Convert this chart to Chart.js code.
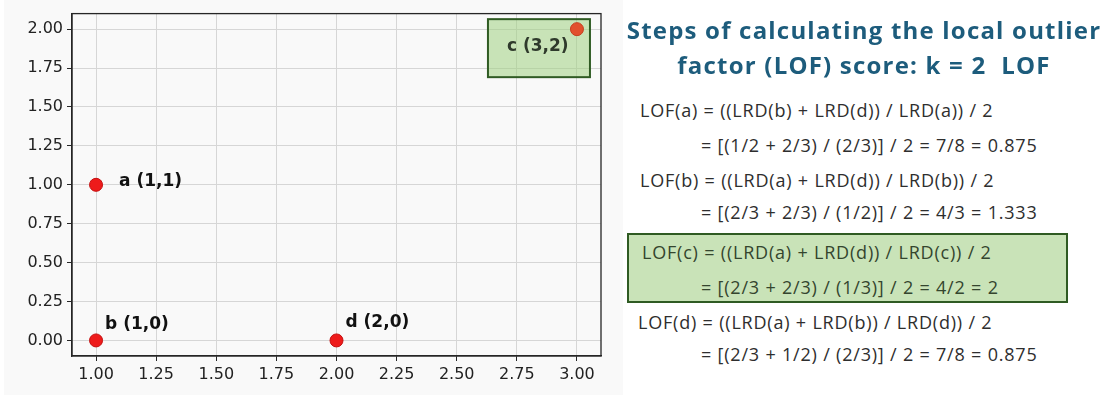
<!DOCTYPE html>
<html>
<head>
<meta charset="utf-8">
<script src="https://cdn.jsdelivr.net/npm/chart.js@4.4.1/dist/chart.umd.min.js"></script>
<style>
  body { margin: 0; background: #ffffff; width: 1113px; height: 398px; overflow: hidden; position: relative; }
  #plotBox { position: absolute; left: 4px; top: 0; width: 619px; height: 395px; background: #f9f9f9; }
  .t { position: absolute; white-space: nowrap; }
  .title { font-family: "Open Sans", sans-serif; font-weight: 700; font-size: 24px; letter-spacing: 1.2px; color: #1d5c7c; line-height: 32px; width: 500px; left: 614px; text-align: center; }
  .f { font-family: "Open Sans", sans-serif; font-size: 18px; letter-spacing: 0.8px; color: #2e2e2e; line-height: 22px; }
  #hiBox { position: absolute; left: 627px; top: 233px; width: 437px; height: 66px; background: #c9e3b8; border: 2px solid #2f5b23; }
  .g { color: #34452e; }
</style>
</head>
<body>
<div id="plotBox"><canvas id="myChart"></canvas></div>

<div class="t title" style="top:14px">Steps of calculating the local outlier</div>
<div class="t title" style="top:49px">factor (LOF) score: k = 2&nbsp; LOF</div>

<div id="hiBox"></div>
<div class="t f" style="left:640px; top:99px">LOF(a) = ((LRD(b) + LRD(d)) / LRD(a)) / 2</div>
<div class="t f" style="left:701px; top:134px">= [(1/2 + 2/3) / (2/3)] / 2 = 7/8 = 0.875</div>
<div class="t f" style="left:640px; top:169px">LOF(b) = ((LRD(a) + LRD(d)) / LRD(b)) / 2</div>
<div class="t f" style="left:701px; top:201px">= [(2/3 + 2/3) / (1/2)] / 2 = 4/3 = 1.333</div>
<div class="t f g" style="left:642px; top:241px">LOF(c) = ((LRD(a) + LRD(d)) / LRD(c)) / 2</div>
<div class="t f g" style="left:701px; top:276px">= [(2/3 + 2/3) / (1/3)] / 2 = 4/2 = 2</div>
<div class="t f" style="left:638px; top:311px">LOF(d) = ((LRD(a) + LRD(b)) / LRD(d)) / 2</div>
<div class="t f" style="left:701px; top:343px">= [(2/3 + 1/2) / (2/3)] / 2 = 7/8 = 0.875</div>

<script>
// points
let pointNames = ['a', 'b', 'c', 'd'];
let xValues = [1, 1, 3, 2];
let yValues = [1, 0, 2, 0];
// axis ticks
let xTicks = [1.00, 1.25, 1.50, 1.75, 2.00, 2.25, 2.50, 2.75, 3.00];
let yTicks = [0.00, 0.25, 0.50, 0.75, 1.00, 1.25, 1.50, 1.75, 2.00];

let points = xValues.map((x, i) => ({ x: x, y: yValues[i] }));
let labels = pointNames.map((n, i) => n + ' (' + xValues[i] + ',' + yValues[i] + ')');

// label offsets from the point, in pixels
let labelOffset = { a: [23, -3], b: [9, -16], c: [-70, 17], d: [9, -18] };

const boxPlugin = {
  id: 'box',
  beforeDatasetsDraw(chart) {
    let ctx = chart.ctx;
    let i = pointNames.indexOf('c');
    let px = chart.scales.x.getPixelForValue(xValues[i]);
    let py = chart.scales.y.getPixelForValue(yValues[i]);
    ctx.save();
    ctx.fillStyle = 'rgba(160,210,130,0.55)';
    ctx.fillRect(px - 89, py - 10, 102, 58);
    ctx.strokeStyle = '#2f5b23';
    ctx.lineWidth = 2;
    ctx.strokeRect(px - 89, py - 10, 102, 58);
    ctx.restore();
  }
};

const labelPlugin = {
  id: 'labels',
  afterDatasetsDraw(chart) {
    let ctx = chart.ctx;
    let area = chart.chartArea;
    let xs = chart.scales.x;
    let ys = chart.scales.y;
    ctx.save();
    // frame
    ctx.strokeStyle = '#262626';
    ctx.lineWidth = 1.3;
    ctx.strokeRect(area.left, area.top, area.right - area.left, area.bottom - area.top);

    ctx.font = 'bold 17px "DejaVu Sans"';
    ctx.textBaseline = 'middle';
    ctx.textAlign = 'left';
    pointNames.forEach((n, i) => {
      let px = xs.getPixelForValue(xValues[i]);
      let py = ys.getPixelForValue(yValues[i]);
      let off = labelOffset[n];
      ctx.fillStyle = n == 'c' ? '#2f3a2c' : '#111111';
      ctx.fillText(labels[i], px + off[0], py + off[1]);
    });
    ctx.restore();
  }
};

const ctx = document.getElementById('myChart');

new Chart(ctx, {
  type: 'scatter',
  data: {
    datasets: [{
      label: 'points',
      data: points,
      pointRadius: 6.5,
      pointBackgroundColor: ['#ee1b1b', '#ee1b1b', '#e2502e', '#ee1b1b'],
      pointBorderColor: ['#c41010', '#c41010', '#c44020', '#c41010'],
      pointBorderWidth: 1
    }, {
      label: 'cross',
      data: points,
      pointStyle: 'cross',
      pointRadius: 4,
      pointBorderColor: 'rgba(255,190,190,0.9)',
      pointBorderWidth: 1
    }]
  },
  options: {
    responsive: true,
    maintainAspectRatio: false,
    animation: false,
    layout: { padding: { top: 10, right: 22, left: 0, bottom: 0 } },
    plugins: {
      legend: { display: false },
      tooltip: { enabled: false }
    },
    scales: {
      x: {
        type: 'linear',
        min: 0.9,
        max: 3.1,
        afterBuildTicks: (scale) => { scale.ticks = xTicks.map(v => ({ value: v })); },
        afterFit: (scale) => { scale.height = 39; },
        ticks: {
          callback: (v) => v.toFixed(2),
          font: { family: 'DejaVu Sans', size: 16 },
          color: '#222222',
          padding: 4,
          maxRotation: 0
        },
        grid: { color: '#d6d6d6', tickColor: '#262626', tickLength: 5, lineWidth: 1 },
        border: { display: true, color: '#262626', width: 1.3 }
      },
      y: {
        type: 'linear',
        min: -0.1,
        max: 2.1,
        afterBuildTicks: (scale) => { scale.ticks = yTicks.map(v => ({ value: v })); },
        afterFit: (scale) => { scale.width = 68; },
        ticks: {
          callback: (v) => v.toFixed(2),
          font: { family: 'DejaVu Sans', size: 16 },
          color: '#222222',
          padding: 4
        },
        grid: { color: '#d6d6d6', tickColor: '#262626', tickLength: 5, lineWidth: 1 },
        border: { display: true, color: '#262626', width: 1.3 }
      }
    }
  },
  plugins: [boxPlugin, labelPlugin]
});
</script>
</body>
</html>
